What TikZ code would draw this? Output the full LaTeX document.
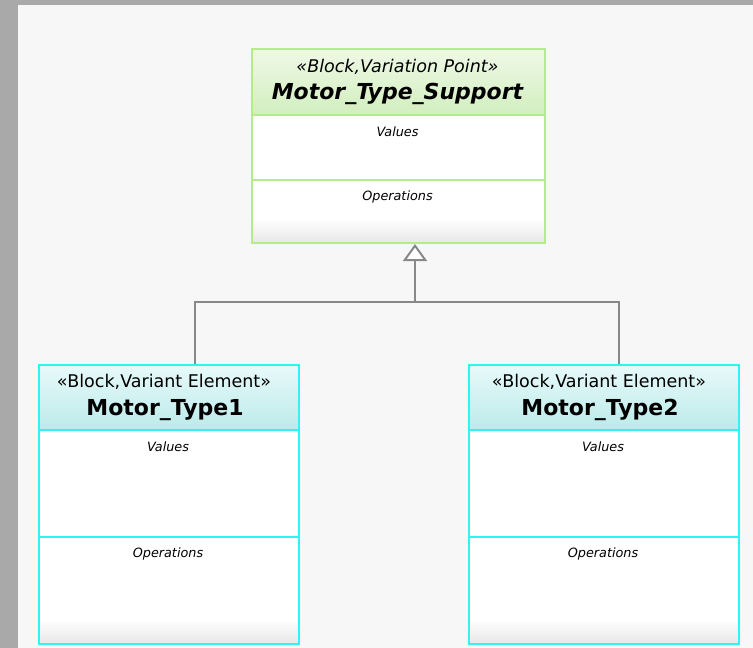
\documentclass[tikz,border=0pt]{standalone}
\usepackage{fontspec}
\setmainfont{DejaVu Sans}
\usetikzlibrary{arrows.meta,calc}
\definecolor{frame}{HTML}{A9A9A9}
\definecolor{canvas}{HTML}{F7F7F7}
\definecolor{vpline}{HTML}{B4EC8C}
\definecolor{vptop}{HTML}{EFF9E8}
\definecolor{vpbot}{HTML}{D2EEBE}
\definecolor{veline}{HTML}{2EF4F4}
\definecolor{vetop}{HTML}{E8FAFA}
\definecolor{vebot}{HTML}{BCEAEA}
\definecolor{genline}{HTML}{888888}

\tikzset{
  block/.style={draw=#1, line width=2pt, inner sep=0pt, anchor=north west},
  stereo/.style={font=\fontsize{17.5}{17.5}\selectfont},
  blockname/.style={font=\bfseries\fontsize{22}{22}\selectfont},
  compart/.style={font=\itshape\fontsize{12.8}{12.8}\selectfont},
  generalize/.style={draw=genline, line width=2.2pt,
    -{Triangle[length=17pt,width=24pt,fill=white,line width=2pt]}}
}

\begin{document}
\begin{tikzpicture}[x=1pt,y=-1pt]
\useasboundingbox (0,0) rectangle (753,648);
\fill[frame] (0,0) rectangle (753,648);
\fill[canvas] (18,5) rectangle (753,648);

% variation point block
\shade[top color=vptop, bottom color=vpbot] (251,48) rectangle (544,115);
\fill[white] (251,115) rectangle (544,242);
\shade[top color=white, bottom color=black!9] (251,218) rectangle (544,242);
\node[block=vpline, minimum width=293pt, minimum height=194pt] (support) at (251,48) {};
\draw[vpline, line width=2pt] (251,115) -- (544,115) (251,180) -- (544,180);
\node[stereo] (supportstereo) at (397.5,67) {\itshape «Block,Variation Point»};
\node[blockname] (supportname) at (397.5,94) {\itshape Motor\_Type\_Support};
\node[compart] (supportvalues) at (397.5,132) {Values};
\node[compart] (supportops) at (397.5,197) {Operations};

% variant element blocks
\foreach \name/\label/\xl/\w in {type1/Motor\_Type1/38/260, type2/Motor\_Type2/468/270}{
  \shade[top color=vetop, bottom color=vebot] (\xl,364) rectangle ++(\w,66);
  \fill[white] (\xl,430) rectangle ++(\w,213);
  \shade[top color=white, bottom color=black!9] (\xl,619) rectangle ++(\w,24);
  \node[block=veline, minimum width=\w pt, minimum height=279pt] (\name) at (\xl,364) {};
  \draw[veline, line width=2pt] (\xl,430) -- ++(\w,0) (\xl,537) -- ++(\w,0);
  \node[stereo] (\name stereo) at ({\xl+\w/2-4},382) {«Block,Variant Element»};
  \node[blockname] (\name title) at ({\xl+\w/2-3},410) {\label};
  \node[compart] (\name values) at ({\xl+\w/2},447) {Values};
  \node[compart] (\name ops) at ({\xl+\w/2},554) {Operations};
}

% generalization
\coordinate (join) at (415,302);
\draw[genline, line width=2.2pt] ($(type1.north west)!0.6!(type1.north east)$) |- (join)
  -| ($(type2.north west)!0.556!(type2.north east)$);
\draw[generalize] (join) -- (join |- support.south);
\end{tikzpicture}
\end{document}
